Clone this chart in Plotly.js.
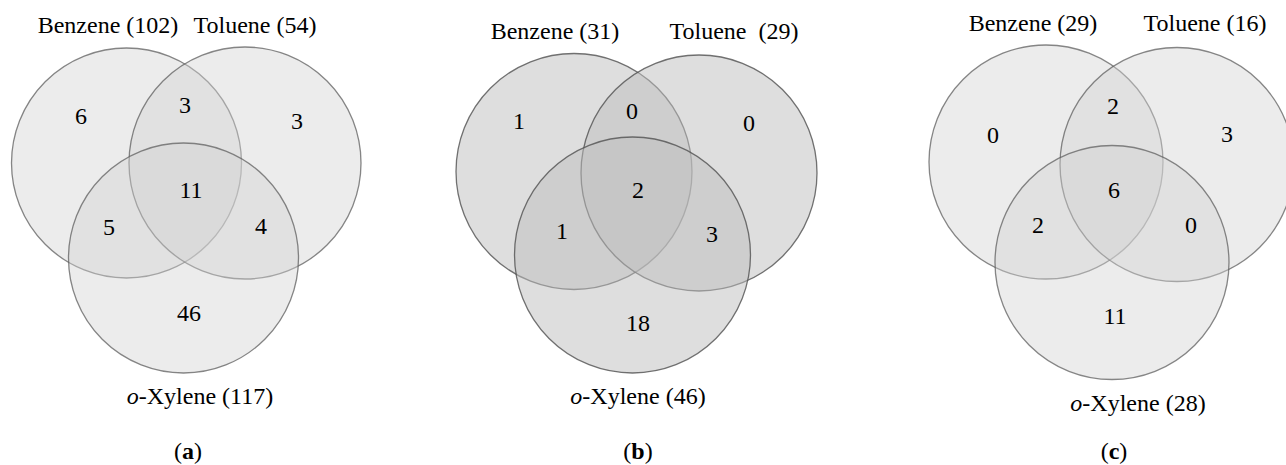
<!DOCTYPE html>
<html>
<head>
<meta charset="utf-8">
<script src="https://cdn.plot.ly/plotly-3.0.1.min.js"></script>
<style>html,body{margin:0;padding:0;background:#fff;}#chart{width:1286px;height:465px;}</style>
</head>
<body>
<div id="chart"></div>
<script>
// ---- data ----
const panelLetters = ['a', 'b', 'c'];
const setNames = ['Benzene', 'Toluene', 'o-Xylene'];
const benzeneTotals = [102, 31, 29];
const tolueneTotals = [54, 29, 16];
const xyleneTotals = [117, 46, 28];
const onlyBenzene = [6, 1, 0];
const onlyToluene = [3, 0, 3];
const onlyXylene = [46, 18, 11];
const benzeneToluene = [3, 0, 2];
const benzeneXylene = [5, 1, 2];
const tolueneXylene = [4, 3, 0];
const allThree = [11, 2, 6];

// ---- layout geometry (pixels) ----
const geom = [
  { circles: [[126.5, 163, 115], [245, 163, 116], [183.5, 258, 115]],
    labels: [[108, 27], [255, 27], [200, 398], [188, 453]],
    regions: { B: [81, 118], BT: [185, 107], T: [297, 123], BTX: [191, 192], BX: [109, 229], TX: [261, 228], X: [189, 315] },
    fill: 'rgba(210,210,210,0.42)', line: 'rgba(95,95,95,0.75)' },
  { circles: [[574, 171.5, 118], [699, 173, 118], [632.5, 255, 118]],
    labels: [[555, 33], [734, 33], [638, 398], [638, 453]],
    regions: { B: [519, 123], BT: [632, 113], T: [749, 125], BTX: [638, 192], BX: [562, 233], TX: [712, 236], X: [638, 325] },
    fill: 'rgba(190,190,190,0.5)', line: 'rgba(80,80,80,0.8)' },
  { circles: [[1046, 162, 117], [1177, 164.5, 117], [1112, 262.5, 117]],
    labels: [[1033, 25], [1205, 25], [1138, 405], [1114, 453]],
    regions: { B: [993, 137], BT: [1113, 108], T: [1227, 136], BTX: [1114, 192], BX: [1038, 227], TX: [1191, 227], X: [1115, 318] },
    fill: 'rgba(210,210,210,0.42)', line: 'rgba(95,95,95,0.75)' }
];

const FONT = '"Liberation Serif"';
const shapes = [];
const numX = [], numY = [], numT = [];
const labX = [], labY = [], labT = [];

panelLetters.forEach((p, i) => {
  const g = geom[i];
  g.circles.forEach(c => {
    shapes.push({ type: 'circle', xref: 'x', yref: 'y', layer: 'below',
      x0: c[0] - c[2], x1: c[0] + c[2], y0: c[1] - c[2], y1: c[1] + c[2],
      fillcolor: g.fill, line: { color: g.line, width: 1.3 } });
  });
  const vals = { B: onlyBenzene[i], BT: benzeneToluene[i], T: onlyToluene[i], BTX: allThree[i],
                 BX: benzeneXylene[i], TX: tolueneXylene[i], X: onlyXylene[i] };
  Object.keys(vals).forEach(k => {
    numX.push(g.regions[k][0]); numY.push(g.regions[k][1]); numT.push(String(vals[k]));
  });
  const tolSep = (i === 1) ? '\u00a0 ' : ' ';
  const texts = [
    setNames[0] + ' (' + benzeneTotals[i] + ')',
    setNames[1] + tolSep + '(' + tolueneTotals[i] + ')',
    '<i>o</i>-Xylene (' + xyleneTotals[i] + ')',
    '(<b>' + p + '</b>)'
  ];
  texts.forEach((t, j) => { labX.push(g.labels[j][0]); labY.push(g.labels[j][1]); labT.push(t); });
});

const traces = [
  { type: 'scatter', mode: 'text', x: numX, y: numY, text: numT, textposition: 'middle center',
    textfont: { family: FONT, size: 24, color: '#000' }, hoverinfo: 'none', showlegend: false },
  { type: 'scatter', mode: 'text', x: labX, y: labY, text: labT, textposition: 'middle center',
    textfont: { family: FONT, size: 24, color: '#000' }, hoverinfo: 'none', showlegend: false }
];

const layout = {
  width: 1286, height: 465,
  margin: { l: 0, r: 0, t: 0, b: 0, pad: 0 },
  paper_bgcolor: '#fff', plot_bgcolor: '#fff',
  font: { family: FONT },
  xaxis: { range: [0, 1286], visible: false, fixedrange: true },
  yaxis: { range: [465, 0], visible: false, fixedrange: true },
  shapes: shapes,
  showlegend: false
};

Plotly.newPlot('chart', traces, layout, { displayModeBar: false, staticPlot: true });
</script>
</body>
</html>
